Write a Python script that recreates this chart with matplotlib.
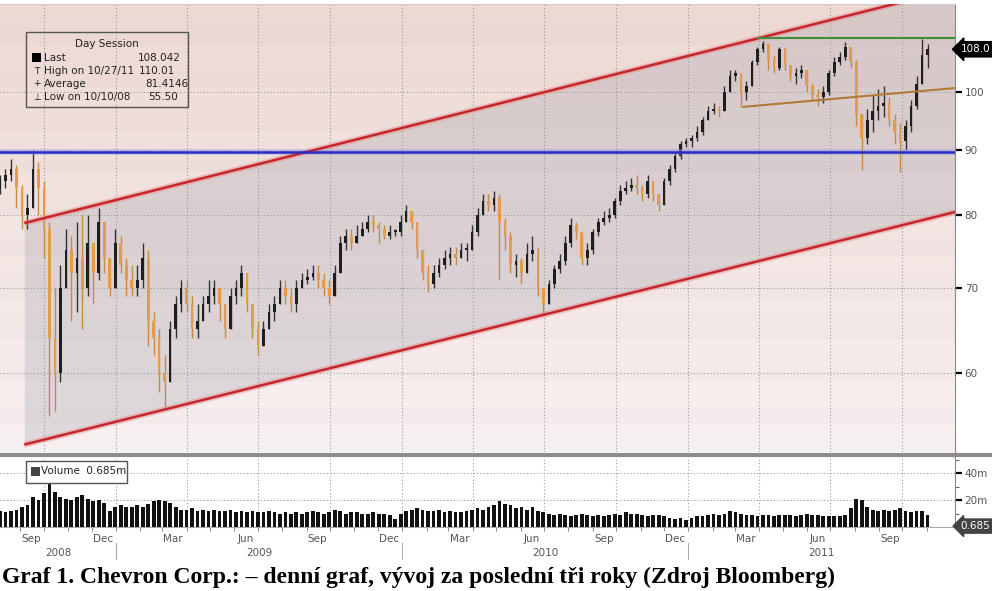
import numpy as np
import pandas as pd
import matplotlib
matplotlib.use('Agg')
import matplotlib.pyplot as plt
import matplotlib.dates as mdates
import matplotlib.transforms as mtransforms
from matplotlib.colors import to_rgb
from matplotlib.patches import Rectangle
from matplotlib.lines import Line2D

# weekly candles (CVX, Aug 2008 - Nov 2011)
weeks = pd.date_range('2008-08-08', '2011-11-04', freq='W-FRI')
open_first = 84
close = [85, 86, 87, 84, 80, 81, 87, 84, 78, 64,
         60, 70, 75, 72, 74, 70, 76, 72, 79, 74,
         70, 76, 73, 71, 70, 71, 74, 66, 64, 60,
         59, 65, 68, 70, 68, 65, 66, 68, 69, 70,
         68, 65, 69, 70, 72, 68, 65, 63, 65, 67,
         68, 70, 69, 68, 70, 71, 71.5, 72, 71, 70,
         69, 72, 76, 77, 76, 77, 78, 79, 78.5, 78,
         77, 77.5, 77.5, 79, 80.5, 79, 75, 72, 70.5, 72,
         73, 74, 74.5, 74, 75, 75, 77.5, 80, 82, 81.5,
         82.5, 79, 77, 73, 73.5, 72, 74.5, 75, 70, 68,
         70.5, 72.5, 73.5, 76, 78.5, 77.5, 74, 75, 77.5, 79,
         79.5, 80, 82, 83.5, 84, 84.5, 84, 83, 85, 83,
         81.5, 85, 87, 89, 91, 91.5, 92, 93, 95, 96.5,
         97, 96.5, 100, 103, 103.5, 100, 101, 105.5, 108, 109,
         106, 104.5, 108, 105, 103, 103.5, 104, 101, 99.5, 99,
         100, 103.5, 105.5, 106.5, 108.5, 105.5, 96, 92, 95, 96.5,
         97.5, 98, 95, 93, 91.5, 94, 97.5, 101.5, 107, 108]
high = [86, 87, 88.5, 87.5, 84.5, 83, 90, 88, 85, 79,
        70, 73, 78, 77, 79, 80, 80, 76, 81, 79,
        74, 78, 77, 74, 73, 73, 76, 75, 67, 65,
        62, 66, 69, 71, 71, 69, 68, 69, 71, 71,
        70, 68, 70, 71, 73, 72, 68, 66, 66, 68,
        69, 71, 71, 70, 71, 72, 72.5, 73, 73, 72,
        71, 73, 77, 78, 78, 78.5, 79, 80, 80, 79,
        78.5, 78.5, 78, 80, 81.5, 80.5, 79, 75, 73, 73,
        74, 75, 75.5, 75.5, 76, 76, 78.5, 81, 83, 83,
        83.5, 83, 79.5, 77.5, 74.5, 74, 76, 77, 75.5, 70,
        71, 73, 74.5, 77, 79.5, 79, 77.5, 76, 78, 79.5,
        80.5, 81, 82.5, 84.5, 85, 85.5, 86, 84.5, 86, 85,
        83, 85.5, 87.5, 89.5, 91.5, 92, 92.5, 94, 95.5, 97.5,
        98, 97.5, 101, 104, 104, 103.5, 102, 106, 108.5, 109.6,
        109, 107, 108.5, 108.5, 105, 104.5, 105, 104, 101.5, 100.5,
        101, 104, 106.5, 107.5, 109.5, 108.5, 106, 96, 97, 99.5,
        100.5, 101, 99, 96, 94.5, 95, 98.5, 103, 110, 109]
low = [83, 84, 85, 81, 78, 78, 81, 80, 74, 55.5,
       56, 59, 70, 66, 67, 65, 69, 68, 71, 72,
       69, 70, 72, 69, 69, 69, 70, 63, 62, 58,
       56.3, 59, 64, 67, 67, 64, 64, 66, 67, 68,
       66, 64, 65, 68, 69, 67, 64, 62, 63, 65,
       66, 68, 68, 67, 67, 70, 70.5, 71, 70, 69,
       68, 69, 72, 75, 75, 76, 77, 77.5, 77.5, 76,
       76.5, 76.5, 77, 77, 79, 78, 74, 71, 69.5, 70,
       71.5, 72.5, 73, 73, 74, 73.5, 75, 77, 80, 80.5,
       80.5, 71, 75, 72, 71.5, 70.5, 72, 73.5, 69, 66.8,
       68, 70, 72, 73, 75.5, 76.5, 73, 73, 74.5, 77,
       78.5, 79, 79.5, 81.5, 83, 83.5, 83, 82, 82.5, 82,
       80.5, 81.5, 84.5, 86.5, 88.5, 90.5, 90.5, 91.5, 92.5, 95,
       96, 95.5, 96.5, 100, 102, 97.3, 98.5, 101, 105, 107.5,
       104, 103.5, 104, 104, 102, 101.5, 102.5, 100, 98.5, 97.5,
       98, 99.5, 103, 105, 106, 104.5, 94, 86.7, 91, 93,
       95, 95.5, 94, 91, 86.5, 90, 93, 97, 101.5, 104.5]
# weekly volume, millions of shares
volume_m = [12, 11, 12, 13, 15, 16, 22, 20, 25, 32,
            26, 22, 21, 20, 22, 24, 21, 19, 20, 18,
            12, 15, 16, 15, 15, 16, 15, 17, 19, 20,
            19, 18, 15, 13, 13, 14, 12, 13, 12, 13,
            12, 12, 13, 11, 12, 11, 12, 11, 11, 12,
            11, 10, 11, 10, 11, 10, 11, 12, 11, 10,
            11, 13, 12, 10, 11, 11, 10, 10, 11, 10,
            10, 9, 6, 10, 12, 13, 14, 13, 12, 12,
            13, 11, 12, 11, 11, 12, 13, 14, 13, 15,
            16, 19, 17, 16, 14, 15, 13, 15, 12, 11,
            10, 9, 10, 9, 8, 9, 10, 9, 8, 9,
            8, 9, 10, 9, 11, 10, 10, 9, 8, 9,
            9, 8, 7, 6, 7, 5, 7, 8, 8, 9,
            10, 9, 10, 12, 11, 10, 9, 9, 8, 9,
            9, 8, 9, 9, 9, 8, 9, 10, 9, 9,
            8, 8, 8, 8, 9, 14, 21, 20, 15, 13,
            12, 13, 12, 13, 14, 12, 11, 12, 12, 9]

# trend lines drawn on the chart: (date, price) end points
upper_channel = [('2008-09-06', 78.8), ('2011-12-07', 120.6)]
lower_channel = [('2008-09-06', 52.7), ('2011-12-07', 80.4)]
support_line = [('2011-03-11', 97.3), ('2011-12-07', 100.7)]
resistance_line = [('2011-03-30', 110.3), ('2011-12-07', 110.3)]
blue_level = 89.6

price_ticks = [60, 70, 80, 90, 100]
vol_ticks = [20, 40]

W, H = 992, 591
def fx(x):
    return x / W
def fy(y):
    return 1 - y / H

fig = plt.figure(figsize=(W / 100, H / 100), dpi=100)
fig.patch.set_facecolor('white')

x_left = mdates.date2num(pd.Timestamp('2008-08-06'))
x_right = mdates.date2num(pd.Timestamp('2011-12-07'))

price_pos = [0, fy(452), fx(955), (452 - 4) / H]
vol_pos = [0, fy(527), fx(955), (527 - 457) / H]

# banded pinkish background like the Bloomberg terminal
bg_ax = fig.add_axes(price_pos, zorder=0)
rows = np.arange(448)
frac = rows / 447.0
top_c = np.array(to_rgb('#efdad4'))
bot_c = np.array(to_rgb('#f9f2f2'))
base = top_c[None, :] * (1 - frac[:, None]) + bot_c[None, :] * frac[:, None]
band = 1 - 0.02 * ((rows % 42) / 42.0)
bg = np.clip(base * band[:, None], 0, 1)
bg_ax.imshow(bg[:, None, :], aspect='auto', extent=[0, 1, 0, 1], origin='upper')
bg_ax.axis('off')

ax = fig.add_axes(price_pos, zorder=1)
ax.patch.set_alpha(0)
ax.set_yscale('log')
ax.set_xlim(x_left, x_right)
ax.set_ylim(52.0, 117.3)

# channel
cx = [mdates.date2num(pd.Timestamp(d)) for d, _ in upper_channel]
ax.fill_between(cx, [p for _, p in lower_channel], [p for _, p in upper_channel],
                color='#9898a8', alpha=0.26, lw=0, zorder=1)

# grid
grid_kw = dict(color='#9a9a9a', lw=0.8, ls=(0, (1, 2)), zorder=2)
for p in price_ticks:
    ax.axhline(p, **grid_kw)
quarters = pd.date_range('2008-10-01', '2011-10-01', freq='QS')
for q in quarters:
    ax.axvline(mdates.date2num(q), **grid_kw)

# candles
xs = mdates.date2num(weeks) - 2
closes = np.array(close, dtype=float)
opens = np.array([open_first] + close[:-1], dtype=float)
up = closes >= opens
body_col = np.where(up, '#1e1e1e', '#e29c4c')
wick_col = np.where(up, '#333333', '#c68a44')
ax.vlines(xs, low, high, colors=wick_col, lw=1.0, zorder=4)
body_h = np.maximum(np.abs(closes - opens), 0.25)
ax.bar(xs, body_h, bottom=np.minimum(opens, closes), width=3.4,
       color=body_col, lw=0, zorder=5)

# trend lines
def draw_line(pts, color, lw, halo=None):
    lx = [mdates.date2num(pd.Timestamp(d)) for d, _ in pts]
    ly = [p for _, p in pts]
    if halo:
        ax.plot(lx, ly, color=halo, lw=lw + 2.5, alpha=0.45, zorder=6, solid_capstyle='butt')
    ax.plot(lx, ly, color=color, lw=lw, zorder=7, solid_capstyle='butt')

draw_line(upper_channel, '#c4262b', 1.8, halo='#e88a8a')
draw_line(lower_channel, '#c4262b', 1.8, halo='#e88a8a')
draw_line(support_line, '#b07a38', 1.5)
draw_line(resistance_line, '#3f8c3a', 1.5)
ax.axhline(blue_level, color='#9c9cf0', lw=4, alpha=0.5, zorder=6)
ax.axhline(blue_level, color='#2a2ac4', lw=1.8, zorder=7)

ax.yaxis.tick_right()
ax.yaxis.set_major_locator(matplotlib.ticker.FixedLocator(price_ticks))
ax.yaxis.set_major_formatter(matplotlib.ticker.FixedFormatter([str(p) for p in price_ticks]))
ax.yaxis.set_minor_locator(matplotlib.ticker.NullLocator())
ax.tick_params(axis='y', which='major', direction='out', length=5, width=1.6,
               color='black', labelsize=7.5, labelcolor='#555555', pad=2)
ax.tick_params(axis='x', bottom=False, labelbottom=False)
for s in ['left', 'bottom']:
    ax.spines[s].set_visible(False)
ax.spines['top'].set_color('#cccccc')
ax.spines['right'].set_color('#888888')

# last price tag
ax.text(1.006, 108.042, '108.0', transform=mtransforms.blended_transform_factory(ax.transAxes, ax.transData),
        ha='left', va='center', fontsize=7.5, color='white', clip_on=False,
        bbox=dict(boxstyle='larrow,pad=0.25', fc='black', ec='black'))

# legend box
fig.add_artist(Rectangle((fx(26), fy(107)), fx(188) - fx(26), fy(32) - fy(107),
                         transform=fig.transFigure, fill=False, ec='#555555', lw=1, zorder=10))
lt = dict(fontsize=7.5, color='#222222', va='center', zorder=11)
sym = dict(fontsize=6.5, color='#222222', va='center', ha='center', zorder=11)
fig.text(fx(107), fy(44), 'Day Session', ha='center', **lt)
fig.add_artist(Rectangle((fx(32), fy(62)), fx(9), 9 / H, transform=fig.transFigure,
                         fc='black', ec='none', zorder=11))
fig.text(fx(44), fy(58), 'Last', ha='left', **lt)
fig.text(fx(138), fy(58), '108.042', ha='left', **lt)
fig.text(fx(37), fy(71), 'T', **sym)
fig.text(fx(44), fy(71), 'High on 10/27/11', ha='left', **lt)
fig.text(fx(139), fy(71), '110.01', ha='left', **lt)
fig.text(fx(37), fy(84), '+', **sym)
fig.text(fx(44), fy(84), 'Average', ha='left', **lt)
fig.text(fx(145), fy(84), '81.4146', ha='left', **lt)
fig.text(fx(37), fy(97), '\u22a5', **sym)
fig.text(fx(44), fy(97), 'Low on 10/10/08', ha='left', **lt)
fig.text(fx(148), fy(97), '55.50', ha='left', **lt)

# volume panel
axv = fig.add_axes(vol_pos, zorder=1)
axv.set_facecolor('white')
axv.set_xlim(x_left, x_right)
axv.set_ylim(0, 52)
for v in vol_ticks + [0.3]:
    axv.axhline(v, color='#9a9a9a', lw=0.8, ls=(0, (1, 2)), zorder=1)
for q in quarters:
    axv.axvline(mdates.date2num(q), color='#9a9a9a', lw=0.8, ls=(0, (1, 2)), zorder=1)
axv.bar(xs, volume_m, width=4.8, color='#111111', lw=0, zorder=3)

axv.yaxis.tick_right()
axv.set_yticks(vol_ticks)
axv.set_yticklabels([f'{v}m' for v in vol_ticks])
axv.set_yticks([10, 30, 50], minor=True)
axv.tick_params(axis='y', which='major', direction='out', length=5, width=1.6,
                color='black', labelsize=7.5, labelcolor='#555555', pad=2)
axv.tick_params(axis='y', which='minor', direction='out', length=3, width=0.8, color='#666666')

months = pd.date_range('2008-09-01', '2011-11-01', freq='MS')
label_months = [m for m in months if m.month in (3, 6, 9, 12)]
axv.set_xticks([mdates.date2num(m + pd.Timedelta(days=14)) for m in label_months])
axv.set_xticklabels([m.strftime('%b') for m in label_months])
axv.set_xticks([mdates.date2num(m) for m in months], minor=True)
axv.tick_params(axis='x', which='major', length=0, labelsize=7.5, labelcolor='#555555', pad=5)
axv.tick_params(axis='x', which='minor', direction='out', length=3, color='#777777')
for s in ['left', 'top']:
    axv.spines[s].set_visible(False)
axv.spines['right'].set_color('#888888')
axv.spines['bottom'].set_color('#aaaaaa')

# year labels and separators
bt = mtransforms.blended_transform_factory(axv.transData, axv.transAxes)
years = [2008, 2009, 2010, 2011]
for yr in years:
    y0 = max(mdates.date2num(pd.Timestamp(f'{yr}-01-01')), x_left)
    y1 = min(mdates.date2num(pd.Timestamp(f'{yr + 1}-01-01')), x_right)
    axv.text((y0 + y1) / 2, -0.37, str(yr), transform=bt, ha='center', va='center',
             fontsize=7.5, color='#555555')
    if yr > 2008:
        axv.plot([y0, y0], [-0.23, -0.45], transform=bt, color='#aaaaaa', lw=0.8, clip_on=False)

# volume tag and legend
axv.text(1.006, 0.685, '0.685', transform=mtransforms.blended_transform_factory(axv.transAxes, axv.transData),
         ha='left', va='center', fontsize=7.5, color='white', clip_on=False,
         bbox=dict(boxstyle='larrow,pad=0.2', fc='#444444', ec='#444444'))
fig.add_artist(Rectangle((fx(26), fy(483)), fx(127) - fx(26), fy(461) - fy(483),
                         transform=fig.transFigure, fc='white', ec='#555555', lw=1, zorder=10))
fig.add_artist(Rectangle((fx(31), fy(476)), fx(9), 9 / H, transform=fig.transFigure,
                         fc='#444444', ec='none', zorder=11))
fig.text(fx(41), fy(471.5), 'Volume  0.685m', ha='left', **lt)

# separator between panels
fig.add_artist(Line2D([0, 1], [fy(454.5), fy(454.5)], transform=fig.transFigure,
                      color='#8c8c8c', lw=3, zorder=12))

# caption
fig.text(fx(2), fy(577), 'Graf 1. Chevron Corp.: \u2013 denní graf, vývoj za poslední tři roky (Zdroj Bloomberg)',
         ha='left', va='center', fontsize=17, fontweight='bold', family='Liberation Serif', color='black')

fig.savefig('out.png', dpi=100)
